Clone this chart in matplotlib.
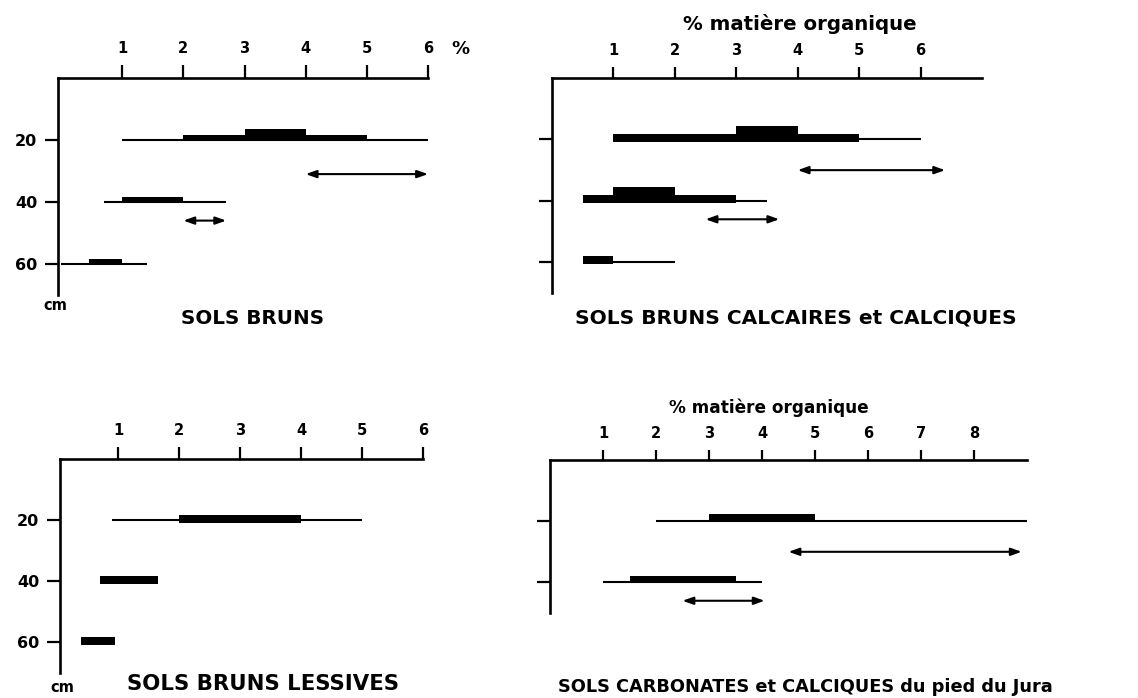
import matplotlib
matplotlib.use("Agg")
import matplotlib.pyplot as plt

W, H = 1138, 698

# --- data (depth in cm, % organic matter) ---
# SOLS BRUNS
p1_lines = [(20, 1.0, 6.0), (40, 0.7, 2.7), (60, 0.0, 1.4)]
p1_bars = [(20, 2.0, 5.0, 1), (20, 3.0, 4.0, 2), (40, 1.0, 2.0, 1), (60, 0.45, 1.0, 1)]
p1_arrows = [(31, 4.0, 6.0), (46, 2.0, 2.7)]

# SOLS BRUNS CALCAIRES et CALCIQUES
p2_lines = [(20, 1.0, 6.0), (40, 0.5, 3.5), (60, 0.5, 2.0)]
p2_bars = [(20, 1.0, 5.0, 1), (20, 3.0, 4.0, 2), (40, 0.5, 3.0, 1), (40, 1.0, 2.0, 2), (60, 0.5, 1.0, 1)]
p2_arrows = [(30, 4.0, 6.4), (46, 2.5, 3.7)]

# SOLS BRUNS LESSIVES
p3_lines = [(20, 0.9, 5.0)]
p3_bars = [(20, 2.0, 4.0, 1), (40, 0.7, 1.65, 1), (60, 0.4, 0.95, 1)]
p3_arrows = []

# SOLS CARBONATES et CALCIQUES du pied du Jura
p4_lines = [(20, 2.0, 9.0), (40, 1.0, 4.0)]
p4_bars = [(20, 3.0, 5.0, 1), (40, 1.5, 3.5, 1)]
p4_arrows = [(30, 4.5, 8.9), (46, 2.5, 4.05)]

xticks_6 = [1, 2, 3, 4, 5, 6]
xticks_8 = [1, 2, 3, 4, 5, 6, 7, 8]
depths = [20, 40, 60]

plt.rcParams['font.family'] = ['DejaVu Sans']
plt.rcParams['font.weight'] = 'bold'

fig = plt.figure(figsize=(W / 100, H / 100), dpi=100)


def px_axes(l, t, r, b):
    return fig.add_axes([l / W, 1 - b / H, (r - l) / W, (b - t) / H])


def ftext(x, y, s, size, ha='center'):
    fig.text(x / W, 1 - y / H, s, fontsize=size, fontweight='bold', ha=ha, va='center')


def panel(rect, xlim, ymax, xticks, yticks, ylabels, lines, bars, arrows, unit, drop, tl):
    ax = px_axes(*rect)
    ax.set_xlim(*xlim)
    ax.set_ylim(ymax, 0)
    for s in ['bottom', 'right']:
        ax.spines[s].set_visible(False)
    for s in ['top', 'left']:
        ax.spines[s].set_linewidth(1.9)
    ax.xaxis.tick_top()
    ax.set_xticks(xticks)
    ax.set_xticklabels([str(v) for v in xticks])
    ax.set_yticks(yticks)
    if ylabels:
        ax.set_yticklabels([str(v) for v in yticks])
    else:
        ax.set_yticklabels([])
    ax.tick_params(axis='x', direction='out', length=tl, width=1.6, pad=6.5, labelsize=10.5)
    ax.tick_params(axis='y', direction='out', length=13 * 0.72, width=1.6, pad=5.5, labelsize=11.5)
    ax.patch.set_alpha(0)
    for d, lo, hi in lines:
        ax.plot([lo, hi], [d, d], color='black', lw=1.5, solid_capstyle='butt')
    for d, lo, hi, lvl in bars:
        ax.barh(d + drop, hi - lo, left=lo, height=-unit * lvl, align='edge',
                color='black', edgecolor='none')
    for d, lo, hi in arrows:
        ax.annotate('', xy=(hi, d), xytext=(lo, d),
                    arrowprops=dict(arrowstyle='<|-|>,head_length=0.45,head_width=0.16',
                                    mutation_scale=14, lw=1.5, color='black',
                                    shrinkA=0, shrinkB=0))
    return ax


panel((58, 78, 428, 295), (-0.05, 6.0), 70, xticks_6, depths, True,
      p1_lines, p1_bars, p1_arrows, 1.9, 0.2, 9.5)
panel((552, 78, 982, 293), (0.0, 7.0), 70, xticks_6, depths, False,
      p2_lines, p2_bars, p2_arrows, 2.6, 0.7, 8)
panel((60, 459, 423, 673), (0.05, 6.0), 70, xticks_6, depths, True,
      p3_lines, p3_bars, p3_arrows, 2.8, 1.0, 8.5)
panel((550, 460, 1027, 613), (0.0, 9.0), 50, xticks_8, [20, 40], False,
      p4_lines, p4_bars, p4_arrows, 2.5, 0.3, 7.5)

ftext(460, 49, '%', 13)
ftext(55, 306, 'cm', 10.5)
ftext(253, 318, 'SOLS BRUNS', 14.3)
ftext(800, 24, '% matière organique', 14.2)
ftext(796, 318, 'SOLS BRUNS CALCAIRES et CALCIQUES', 14.5)
ftext(62, 688, 'cm', 10.5)
ftext(263, 684, 'SOLS BRUNS LESSIVES', 15.3)
ftext(769, 408, '% matière organique', 12.2)
ftext(805, 687, 'SOLS CARBONATES et CALCIQUES du pied du Jura', 12.8)

fig.savefig('out.png', dpi=100)
